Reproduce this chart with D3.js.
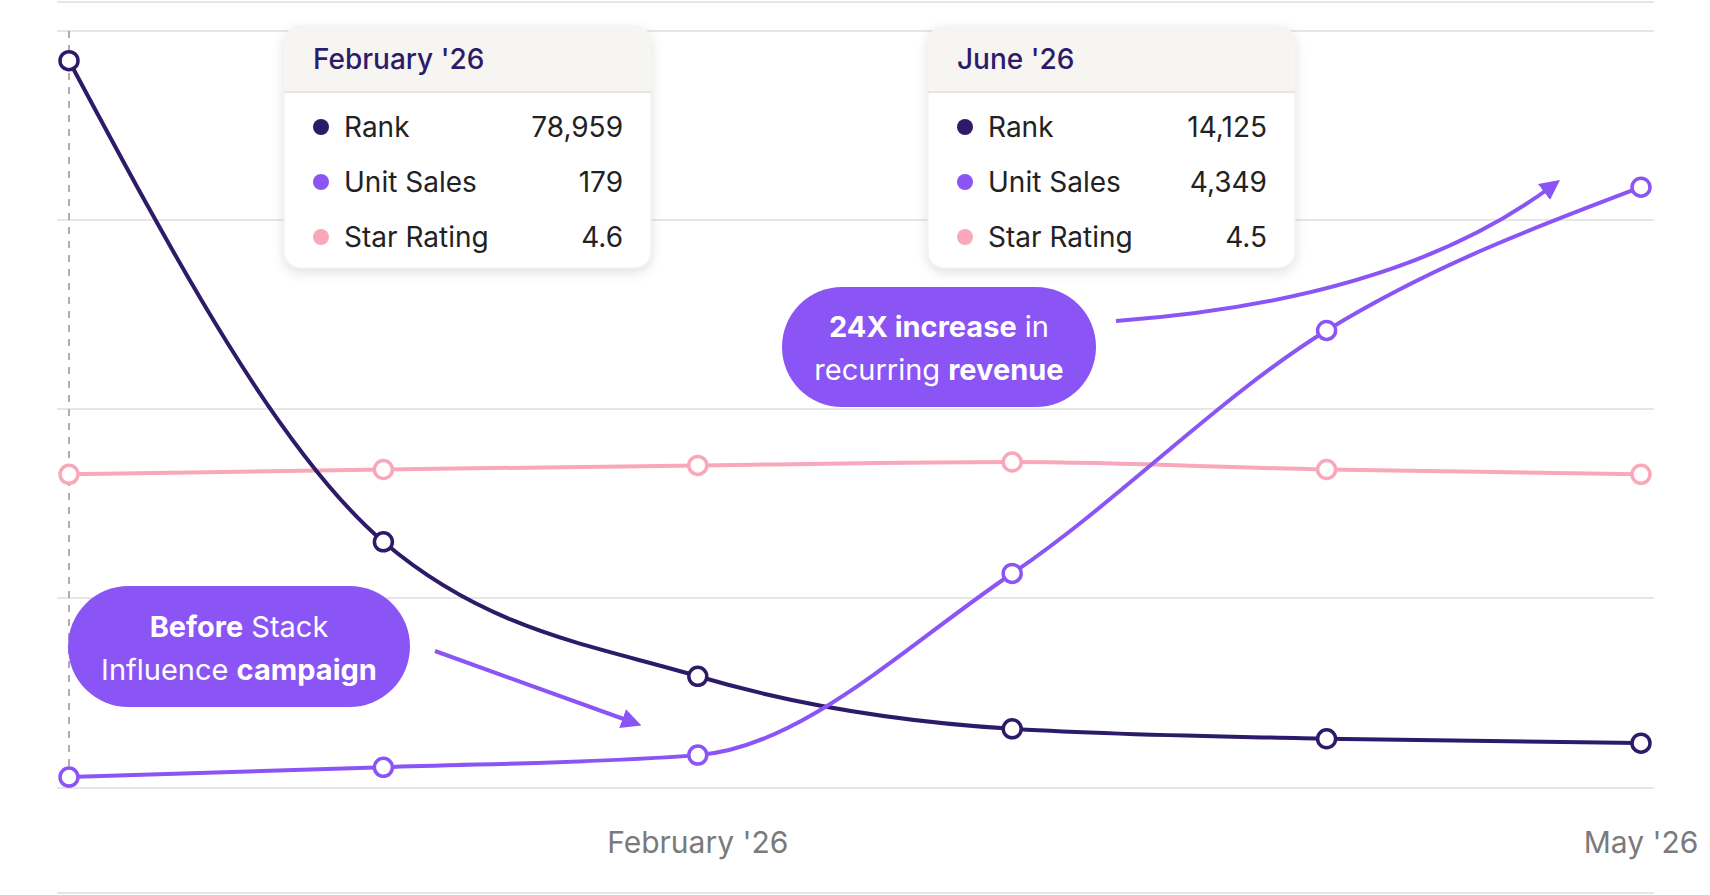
<!DOCTYPE html>
<html><head><meta charset="utf-8">
<script src="https://cdn.jsdelivr.net/npm/d3@7"></script>
<style>body{margin:0;background:#fff;font-family:Inter,sans-serif}</style>
</head><body><svg id="canvas"></svg>
<script>
const months = ['Dec', 'Jan', 'Feb', 'Mar', 'Apr', 'May']
const rank = [514000, 174000, 78959, 41800, 34800, 31700]
const unitSales = [79, 150, 238, 1553, 3312, 4349]
const starRating = [4.6, 4.67, 4.73, 4.78, 4.67, 4.6]
const tickLabels = [{m: 'Feb', t: "February '26"}, {m: 'May', t: "May '26"}]
const tips = [
  {title: "February '26", at: 284, rows: [['Rank', '78,959'], ['Unit Sales', '179'], ['Star Rating', '4.6']]},
  {title: "June '26", at: 928, rows: [['Rank', '14,125'], ['Unit Sales', '4,349'], ['Star Rating', '4.5']]}
]

const width = 1710, height = 895
const colRank = '#2d1b69', colUnit = '#8b55f5', colStar = '#f9a8ba'

let canvas = d3.select('#canvas').attr('width', width).attr('height', height)
let defs = canvas.append('defs')
let f = defs.append('filter').attr('id', 'sh').attr('x', '-20%').attr('y', '-20%').attr('width', '140%').attr('height', '150%')
f.append('feDropShadow').attr('dx', 0).attr('dy', 4).attr('stdDeviation', 6).attr('flood-color', '#000').attr('flood-opacity', 0.12)
defs.append('marker').attr('id', 'arr').attr('viewBox', '0 0 10 10').attr('refX', 5).attr('refY', 5)
  .attr('markerWidth', 5).attr('markerHeight', 5).attr('orient', 'auto')
  .append('path').attr('d', 'M0,0 L10,5 L0,10 z').attr('fill', colUnit)

let xScale = d3.scalePoint().domain(months).range([69, 1641])
let yRank = d3.scaleLinear().domain([0, 535000]).range([788, 31])
let yUnit = d3.scaleLinear().domain([0, 5480]).range([788, 31])
let yStar = d3.scaleLinear().domain([0, 11.1]).range([788, 31])

// grid
;[2, 31, 220, 409, 598, 788, 893].forEach(y => {
  canvas.append('line').attr('x1', 57).attr('x2', 1654).attr('y1', y).attr('y2', y)
    .attr('stroke', '#e6e6e6').attr('stroke-width', 2)
})
canvas.append('line').attr('x1', 69).attr('x2', 69).attr('y1', 31).attr('y2', 788)
  .attr('stroke', '#a8899a').attr('stroke-width', 1.5).attr('stroke-dasharray', '7,7')

tickLabels.forEach(d => {
  canvas.append('text').attr('x', xScale(d.m)).attr('y', 853).attr('text-anchor', 'middle')
    .attr('font-size', 30).attr('fill', '#7a7a7a').text(d.t)
})

let drawSeries = (vals, y, col) => {
  canvas.append('path').datum(vals)
    .attr('d', d3.line().x((d, i) => xScale(months[i])).y(d => y(d)).curve(d3.curveMonotoneX))
    .attr('fill', 'none').attr('stroke', col).attr('stroke-width', 4)
  canvas.selectAll(null).data(vals).enter().append('circle')
    .attr('cx', (d, i) => xScale(months[i])).attr('cy', d => y(d)).attr('r', 9)
    .attr('fill', '#fff').attr('stroke', col).attr('stroke-width', 3.5)
}
drawSeries(starRating, yStar, colStar)
drawSeries(rank, yRank, colRank)
drawSeries(unitSales, yUnit, colUnit)

// tooltips
const dots = [colRank, colUnit, colStar]
tips.forEach(t => {
  let g = canvas.append('g').attr('transform', `translate(${t.at},26)`)
  g.append('rect').attr('width', 367).attr('height', 242).attr('rx', 16).attr('fill', '#fff')
    .attr('stroke', '#eee').attr('filter', 'url(#sh)')
  g.append('path').attr('d', 'M0,66 V16 A16,16 0 0 1 16,0 H351 A16,16 0 0 1 367,16 V66 Z').attr('fill', '#f7f5f1')
  g.append('line').attr('x1', 0).attr('x2', 367).attr('y1', 66).attr('y2', 66).attr('stroke', '#e8e6e2').attr('stroke-width', 2)
  g.append('text').attr('x', 29).attr('y', 43).attr('font-size', 28).attr('font-weight', 500).attr('fill', '#2d1b69').text(t.title)
  t.rows.forEach((r, i) => {
    let yy = 101 + i * 55
    g.append('circle').attr('cx', 37).attr('cy', yy).attr('r', 8).attr('fill', dots[i])
    g.append('text').attr('x', 60).attr('y', yy + 10).attr('font-size', 28).attr('fill', '#222').text(r[0])
    g.append('text').attr('x', 339).attr('y', yy + 10).attr('text-anchor', 'end').attr('font-size', 28).attr('fill', '#222').text(r[1])
  })
})

// callouts
let pill = (x, y, w, h, lines) => {
  canvas.append('rect').attr('x', x).attr('y', y).attr('width', w).attr('height', h).attr('rx', h / 2).attr('fill', colUnit)
  lines.forEach((ln, i) => {
    let tx = canvas.append('text').attr('x', x + w / 2).attr('y', y + h / 2 - 10 + i * 43).attr('text-anchor', 'middle')
      .attr('font-size', 29).attr('fill', '#fff')
    ln.forEach(p => tx.append('tspan').attr('font-weight', p[1] ? 700 : 400).text(p[0]))
  })
}
pill(782, 287, 314, 120, [[['24X increase', 1], [' in', 0]], [['recurring ', 0], ['revenue', 1]]])
pill(68, 586, 342, 121, [[['Before', 1], [' Stack', 0]], [['Influence ', 0], ['campaign', 1]]])

canvas.append('path').attr('d', 'M1116,321 Q1400,300 1552,186').attr('fill', 'none')
  .attr('stroke', colUnit).attr('stroke-width', 4).attr('marker-end', 'url(#arr)')
canvas.append('path').attr('d', 'M435,651 L632,722').attr('fill', 'none')
  .attr('stroke', colUnit).attr('stroke-width', 4).attr('marker-end', 'url(#arr)')
</script></body></html>
